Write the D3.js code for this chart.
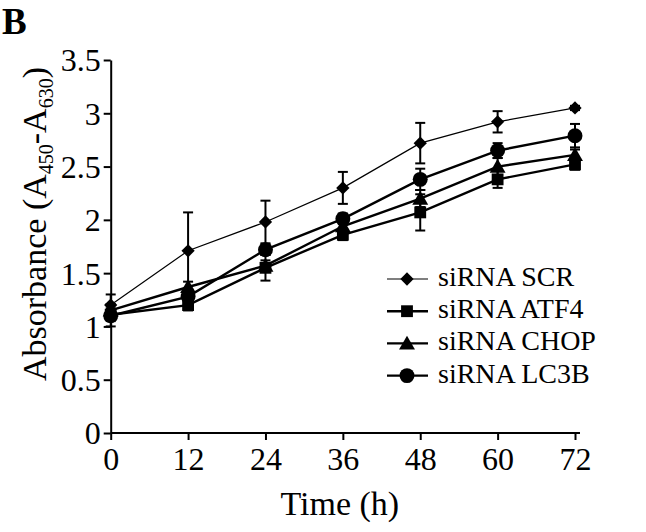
<!DOCTYPE html>
<html>
<head>
<meta charset="utf-8">
<script src="https://cdn.jsdelivr.net/npm/d3@7"></script>
<style>
  html, body { margin: 0; padding: 0; background: #fff; }
  svg { display: block; }
  text { font-family: "Liberation Serif", "Times New Roman", serif; fill: #000; }
</style>
</head>
<body>
<svg id="chart" width="646" height="532"></svg>
<script>
// ---- data ----
const hours = [0, 12, 24, 36, 48, 60, 72];
const seriesNames = ["siRNA SCR", "siRNA ATF4", "siRNA CHOP", "siRNA LC3B"];
const seriesSymbols = ["diamond", "square", "triangle", "circle"];
const scrValues  = [1.20, 1.71, 1.98, 2.30, 2.72, 2.92, 3.05];
const scrErrors  = [0.10, 0.36, 0.20, 0.15, 0.19, 0.10, 0.02];
const atf4Values = [1.11, 1.20, 1.55, 1.86, 2.07, 2.38, 2.52];
const atf4Errors = [0.06, 0.05, 0.12, 0.05, 0.17, 0.08, 0.05];
const chopValues = [1.15, 1.37, 1.57, 1.94, 2.20, 2.50, 2.61];
const chopErrors = [0.06, 0.05, 0.05, 0.05, 0.08, 0.08, 0.05];
const lc3bValues = [1.10, 1.28, 1.72, 2.01, 2.38, 2.65, 2.79];
const lc3bErrors = [0.10, 0.05, 0.05, 0.05, 0.10, 0.07, 0.11];
const xTicks = [0, 12, 24, 36, 48, 60, 72];
const yTicks = [0, 0.5, 1, 1.5, 2, 2.5, 3, 3.5];
const yTickLabels = ["0", "0.5", "1", "1.5", "2", "2.5", "3", "3.5"];

const series = [
  { name: seriesNames[0], sym: seriesSymbols[0], values: scrValues,  errors: scrErrors,  lw: 1.2 },
  { name: seriesNames[1], sym: seriesSymbols[1], values: atf4Values, errors: atf4Errors, lw: 2.4 },
  { name: seriesNames[2], sym: seriesSymbols[2], values: chopValues, errors: chopErrors, lw: 2.4 },
  { name: seriesNames[3], sym: seriesSymbols[3], values: lc3bValues, errors: lc3bErrors, lw: 2.4 }
];

// ---- layout ----
const svg = d3.select("#chart");
const x = d3.scaleLinear().domain([0, 72]).range([110.7, 575]);
const y = d3.scaleLinear().domain([0, 3.5]).range([433, 60]);

const symbolGen = {
  diamond: d3.symbol().type(d3.symbolSquare).size(88),
  square: d3.symbol().type(d3.symbolSquare).size(140),
  triangle: d3.symbol().type(d3.symbolTriangle).size(110),
  circle: d3.symbol().type(d3.symbolCircle).size(175)
};
const symRotate = s => (s === "diamond" ? " rotate(45)" : "");
const symShift = s => (s === "triangle" ? 1.5 : 0);

// panel letter
svg.append("text").attr("x", 2).attr("y", 34)
  .style("font-size", "37px").style("font-weight", "bold").text("B");

// axes
const yAxis = d3.axisLeft(y).tickValues(yTicks)
  .tickFormat((d, i) => yTickLabels[i]).tickSize(7).tickSizeOuter(0).tickPadding(3);
const gy = svg.append("g").attr("transform", `translate(${x(0)},0)`).call(yAxis);
gy.selectAll("text").style("font-size", "32px").attr("dy", "0.34em")
  .style("font-family", '"Liberation Serif", "Times New Roman", serif');

const xAxis = d3.axisBottom(x).tickValues(xTicks).tickFormat(d3.format("d"))
  .tickSize(7).tickSizeOuter(0).tickPadding(7);
const gx = svg.append("g").attr("transform", `translate(0,${y(0)})`).call(xAxis);
gx.selectAll("text").style("font-size", "32px")
  .style("font-family", '"Liberation Serif", "Times New Roman", serif');
gx.select(".domain").remove();
svg.append("line").attr("x1", x(0)).attr("x2", x(72) + 5)
  .attr("y1", y(0)).attr("y2", y(0)).attr("stroke", "#000").attr("stroke-width", 2);

[gx, gy].forEach(g => {
  g.selectAll("line").attr("stroke", "#000").attr("stroke-width", 2);
  g.selectAll(".domain").attr("stroke", "#000").attr("stroke-width", 2);
});

// axis titles
svg.append("text").attr("x", (x(0) + x(72)) / 2 - 3).attr("y", 515)
  .attr("text-anchor", "middle").style("font-size", "34px").text("Time (h)");

const yt = svg.append("text")
  .attr("transform", "translate(46,224) rotate(-90)")
  .attr("text-anchor", "middle").style("font-size", "34px");
yt.append("tspan").text("Absorbance (A");
yt.append("tspan").attr("dy", 7).style("font-size", "20px").text("450");
yt.append("tspan").attr("dy", -7).text("-A");
yt.append("tspan").attr("dy", 7).style("font-size", "20px").text("630");
yt.append("tspan").attr("dy", -7).text(")");

// error bars
const plot = svg.append("g");
const capW = 5;
series.forEach(s => {
  const g = plot.append("g");
  hours.forEach((h, i) => {
    const cx = x(h), lo = y(s.values[i] - s.errors[i]), hi = y(s.values[i] + s.errors[i]);
    g.append("line").attr("x1", cx).attr("x2", cx).attr("y1", lo).attr("y2", hi)
      .attr("stroke", "#000").attr("stroke-width", 2);
    [lo, hi].forEach(yy => g.append("line").attr("x1", cx - capW).attr("x2", cx + capW)
      .attr("y1", yy).attr("y2", yy).attr("stroke", "#000").attr("stroke-width", 2));
  });
});

// lines
const line = d3.line().x((d, i) => x(hours[i])).y(d => y(d));
series.forEach(s => {
  plot.append("path").datum(s.values).attr("d", line)
    .attr("fill", "none").attr("stroke", "#000").attr("stroke-width", s.lw);
});

// markers
series.forEach(s => {
  plot.selectAll(null).data(s.values).enter().append("path")
    .attr("d", symbolGen[s.sym])
    .attr("transform", (d, i) => `translate(${x(hours[i])},${y(d) + symShift(s.sym)})${symRotate(s.sym)}`)
    .attr("fill", "#000");
});

// legend
const legend = svg.append("g");
const legY0 = 279, legDy = 32.2;
series.forEach((s, i) => {
  const ly = legY0 + i * legDy;
  legend.append("line").attr("x1", 387).attr("x2", 428).attr("y1", ly).attr("y2", ly)
    .attr("stroke", "#000").attr("stroke-width", s.lw);
  legend.append("path").attr("d", symbolGen[s.sym])
    .attr("transform", `translate(407,${ly + symShift(s.sym)})${symRotate(s.sym)}`).attr("fill", "#000");
  legend.append("text").attr("x", 438).attr("y", ly + 7).style("font-size", "28px").text(s.name);
});
</script>
</body>
</html>
